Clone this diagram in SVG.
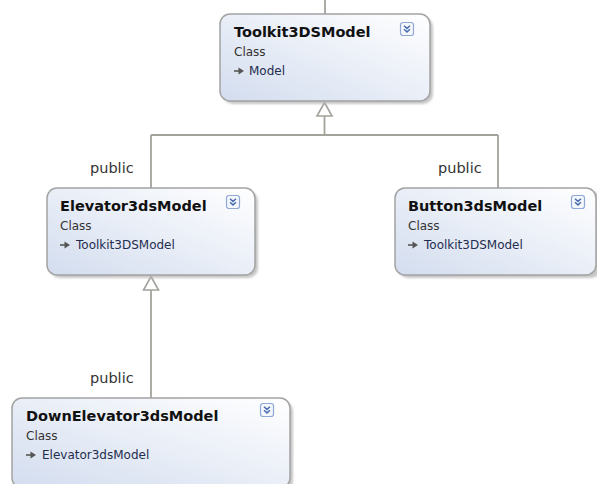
<svg xmlns="http://www.w3.org/2000/svg" width="597" height="484" viewBox="0 0 597 484">
<defs>
<linearGradient id="fill" x1="1" y1="0" x2="0" y2="1">
<stop offset="0" stop-color="#ffffff"/>
<stop offset="1" stop-color="#d3ddef"/>
</linearGradient>
<filter id="blur" x="-10%" y="-10%" width="120%" height="120%"><feGaussianBlur stdDeviation="1.2"/></filter>
<g id="icon">
<rect x="0.5" y="0.5" width="13" height="13" rx="2.5" fill="#f4f7fc" stroke="#8fa8d6" stroke-width="1.2"/>
<path d="M4 3.8 L7 6.4 L10 3.8 M4 7.3 L7 9.9 L10 7.3" fill="none" stroke="#4a6db0" stroke-width="1.5"/>
</g>
<g id="inh">
<path d="M0 -4 H5" stroke="#555" stroke-width="1.6"/>
<path d="M4.5 -7.5 L10 -4 L4.5 -0.5 Z" fill="#555"/>
</g>
</defs>
<style>
.shadow{fill:#b8b8b8;filter:url(#blur);opacity:0.8}
.box{fill:url(#fill);stroke:#a3a3a3;stroke-width:1.5}
.title{font-family:"DejaVu Sans",Verdana,sans-serif;font-weight:bold;font-size:14.5px;fill:#111}
.kind{font-family:"DejaVu Sans",Verdana,sans-serif;font-size:12px;fill:#333}
.base{font-family:"DejaVu Sans",Verdana,sans-serif;font-size:12px;fill:#1f2d4f}
.lbl{font-family:"DejaVu Sans",Verdana,sans-serif;font-size:14.5px;fill:#333}
.conn{fill:none;stroke:#a3a39c;stroke-width:1.8}
.tri{fill:#ffffff;stroke:#a3a39c;stroke-width:1.6}
</style>

<g id="connectors">
<path class="conn" d="M325 0 V14"/>
<path class="conn" d="M324.5 116 V135 M151 135 H498 M151 135 V188 M498 135 V188"/>
<path class="tri" d="M324.5 102.5 L332 116 L317 116 Z"/>
<path class="conn" d="M151 290 V398"/>
<path class="tri" d="M151 276.5 L158.5 290 L143.5 290 Z"/>
<text class="lbl" x="90" y="173">public</text>
<text class="lbl" x="438" y="173">public</text>
<text class="lbl" x="90" y="383">public</text>
</g>

<g id="Toolkit3DSModel">
<rect class="shadow" x="223" y="17" width="210" height="87" rx="10"/>
<rect class="box" x="220" y="14" width="210" height="87" rx="10"/>
<text class="title" x="234" y="37">Toolkit3DSModel</text>
<text class="kind" x="234" y="56">Class</text>
<use href="#inh" x="234" y="75"/>
<text class="base" x="249" y="75">Model</text>
<use href="#icon" x="400" y="22"/>
</g>

<g id="Elevator3dsModel">
<rect class="shadow" x="50" y="191" width="208" height="87" rx="10"/>
<rect class="box" x="47" y="188" width="208" height="87" rx="10"/>
<text class="title" x="60" y="211">Elevator3dsModel</text>
<text class="kind" x="60" y="230">Class</text>
<use href="#inh" x="60" y="249"/>
<text class="base" x="76" y="249">Toolkit3DSModel</text>
<use href="#icon" x="226" y="195"/>
</g>

<g id="Button3dsModel">
<rect class="shadow" x="398" y="191" width="203" height="87" rx="10"/>
<rect class="box" x="395" y="188" width="201" height="87" rx="10"/>
<text class="title" x="408" y="211">Button3dsModel</text>
<text class="kind" x="408" y="230">Class</text>
<use href="#inh" x="408" y="249"/>
<text class="base" x="424" y="249">Toolkit3DSModel</text>
<use href="#icon" x="571" y="195"/>
</g>

<g id="DownElevator3dsModel">
<rect class="shadow" x="15" y="401" width="278" height="90" rx="10"/>
<rect class="box" x="12" y="398" width="278" height="90" rx="10"/>
<text class="title" x="26" y="421">DownElevator3dsModel</text>
<text class="kind" x="26" y="440">Class</text>
<use href="#inh" x="26" y="459"/>
<text class="base" x="42" y="459">Elevator3dsModel</text>
<use href="#icon" x="260" y="403"/>
</g>
</svg>
